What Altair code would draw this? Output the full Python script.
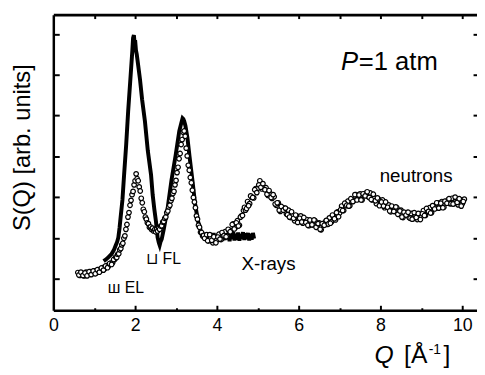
import altair as alt
import pandas as pd

# ---------------- data ----------------
# neutron S(Q), open circles (main grid)
s_n1 = [0.15, 0.08, 0.13, 0.07, 0.16, 0.10, 0.17, 0.12, 0.19, 0.14,
        0.22, 0.19, 0.27, 0.24, 0.32, 0.31, 0.38, 0.39, 0.47]
s_n2 = [0.53, 0.52, 0.60, 0.61, 0.71, 0.74, 0.83, 0.87, 0.99, 1.05,
        1.21, 1.33, 1.51, 1.62, 1.80, 1.92, 2.06, 2.14, 2.30, 2.40,
        2.57, 2.45, 2.40, 2.25, 2.15, 1.97, 1.86, 1.70, 1.64, 1.51,
        1.46, 1.37, 1.35, 1.26, 1.27, 1.21, 1.24, 1.17, 1.20, 1.15,
        1.21, 1.17, 1.24, 1.21, 1.29, 1.30, 1.39, 1.40, 1.48, 1.51,
        1.62, 1.66, 1.76, 1.80, 1.91, 1.97, 2.09, 2.14, 2.30, 2.41,
        2.60, 2.73, 2.94, 3.07, 3.29, 3.41, 3.59, 3.62, 3.49, 3.20,
        3.01, 2.78, 2.66, 2.48, 2.35, 2.17, 1.99, 1.88, 1.74, 1.54,
        1.46, 1.31, 1.26, 1.14, 1.13, 1.05, 1.06, 0.99]
s_n3 = [1.08, 0.93, 1.00, 0.88, 1.02, 0.96, 1.09, 0.96, 1.06, 1.15,
        1.04, 1.19, 1.18, 1.34, 1.25, 1.42, 1.31, 1.54, 1.67, 1.68,
        1.89, 1.84, 2.00, 1.98, 2.21, 2.22, 2.40, 2.20, 2.23, 2.23,
        2.04, 2.09, 1.97, 2.01, 1.80, 1.86, 1.65, 1.73, 1.73, 1.59,
        1.68, 1.50, 1.55, 1.42, 1.54, 1.44, 1.54, 1.36, 1.41, 1.45,
        1.30, 1.40, 1.32, 1.42, 1.26, 1.37, 1.20, 1.33, 1.39, 1.33,
        1.49, 1.39, 1.51, 1.44, 1.64, 1.61, 1.78, 1.67, 1.79, 1.90,
        1.79, 1.94, 1.92, 2.06, 1.95, 2.08, 1.93, 2.06, 2.10, 2.01,
        2.10, 1.93, 1.98, 1.84, 1.95, 1.84, 1.93, 1.74, 1.78, 1.81,
        1.64, 1.73, 1.65, 1.74, 1.58, 1.68, 1.50, 1.60, 1.62, 1.50,
        1.60, 1.47, 1.55, 1.45, 1.59, 1.53, 1.67, 1.55, 1.65, 1.74,
        1.62, 1.77, 1.73, 1.86, 1.75, 1.89, 1.75, 1.88, 1.93, 1.84,
        1.97, 1.84, 1.93, 1.81, 1.94, 1.84, 1.95]
# neutron points lying between the above ones (dense flat regions)
s_m1 = [0.09, 0.16, 0.08, 0.14, 0.07, 0.17, 0.10, 0.19, 0.12, 0.22,
        0.16, 0.26, 0.21, 0.31, 0.27, 0.37, 0.35, 0.47]
s_m3 = [0.93, 1.08, 0.94, 1.03, 0.88, 1.02, 0.97, 1.13, 1.06, 1.03,
        1.21, 1.15, 1.33, 1.22, 1.37, 1.29, 1.51, 1.55, 1.75, 1.72,
        1.79, 2.03, 1.99, 2.18, 2.11, 2.30, 2.24, 2.33, 2.18, 2.07,
        2.16, 1.99, 2.06, 1.83, 1.86, 1.68, 1.77, 1.68, 1.73, 1.57,
        1.51, 1.64, 1.48, 1.56, 1.38, 1.48, 1.39, 1.50, 1.38, 1.31,
        1.44, 1.32, 1.44, 1.26, 1.35, 1.21, 1.35, 1.31, 1.43, 1.34,
        1.36, 1.56, 1.47, 1.62, 1.52, 1.69, 1.67, 1.85, 1.80, 1.78,
        1.96, 1.89, 2.06, 1.93, 2.05, 1.93, 2.08, 2.03, 2.13, 1.99,
        1.94, 2.07, 1.91, 1.98, 1.79, 1.88, 1.78, 1.88, 1.75, 1.66,
        1.78, 1.65, 1.76, 1.58, 1.66, 1.51, 1.63, 1.56, 1.63, 1.48,
        1.46, 1.62, 1.50, 1.60, 1.45, 1.59, 1.55, 1.72, 1.65, 1.61,
        1.79, 1.71, 1.86, 1.73, 1.85, 1.74, 1.90, 1.85, 1.96, 1.84,
        1.83, 2.00, 1.87, 1.96, 1.78, 1.89]
q_n1 = [round(0.60 + 0.05 * i, 3) for i in range(len(s_n1))]
q_n2 = [round(1.525 + 0.025 * i, 3) for i in range(len(s_n2))]
q_n3 = [round(3.75 + 0.05 * i, 3) for i in range(len(s_n3))]
q_m1 = [round(0.625 + 0.05 * i, 3) for i in range(len(s_m1))]
q_m3 = [round(3.775 + 0.05 * i, 3) for i in range(len(s_m3))]

# X-ray S(Q), thick solid line
xray_q = [1.23, 1.30, 1.35, 1.42, 1.48, 1.52, 1.56, 1.59, 1.62, 1.64,
          1.69, 1.73, 1.78, 1.83, 1.88, 1.93, 1.95, 1.97, 1.99, 2.00,
          2.02, 2.04, 2.07, 2.12, 2.17, 2.24, 2.31, 2.39, 2.43, 2.47,
          2.51, 2.55, 2.58, 2.60, 2.62, 2.65, 2.70, 2.80, 2.89, 2.99,
          3.08, 3.13, 3.16, 3.18, 3.20, 3.23, 3.28, 3.33, 3.40, 3.47,
          3.54, 3.61, 3.66, 3.71, 3.74, 3.77, 3.80, 3.83, 3.86, 3.89,
          3.92, 3.95, 3.98, 4.01, 4.04, 4.07, 4.10, 4.13, 4.16, 4.19,
          4.22, 4.25, 4.28, 4.31, 4.34, 4.37, 4.40, 4.43, 4.46, 4.49,
          4.52, 4.55, 4.58, 4.61, 4.64, 4.67, 4.70, 4.73, 4.76, 4.79,
          4.82, 4.85, 4.88, 4.91]
xray_s = [0.43, 0.48, 0.53, 0.60, 0.70, 0.80, 0.90, 1.01, 1.25, 1.45,
          1.93, 2.54, 3.26, 4.11, 4.83, 5.56, 5.90, 5.97, 5.75, 5.85,
          5.60, 5.50, 5.27, 4.88, 4.40, 3.86, 3.14, 2.54, 2.05, 1.70,
          1.40, 1.01, 0.88, 0.82, 0.90, 0.97, 1.21, 1.76, 2.42, 3.02,
          3.62, 3.82, 3.93, 3.91, 3.86, 3.75, 3.45, 3.00, 2.42, 1.81,
          1.40, 1.16, 1.08, 1.02, 1.12, 0.95, 1.10, 0.92, 1.08, 0.96,
          1.12, 0.94, 1.06, 0.90, 1.10, 0.97, 1.13, 0.93, 1.08, 0.95,
          1.12, 0.97, 1.09, 0.92, 1.11, 0.98, 1.14, 0.94, 1.10, 0.96,
          1.13, 0.93, 1.09, 0.98, 1.14, 0.95, 1.11, 0.97, 1.12, 0.94,
          1.10, 0.96, 1.12, 0.98]

x_major = [0, 2, 4, 6, 8, 10]
x_minor = [1, 3, 5, 7, 9]
x_all = [1, 2, 3, 4, 5, 6, 7, 8, 9, 10]
y_ticks = [0, 1, 2, 3, 4, 5, 6]

ann_labels = ["neutrons", "X-rays"]
ann_q = [7.98, 4.60]
ann_s = [2.37, 0.22]
res_labels = ["\u2294 FL", "\u0448 EL"]
res_q = [2.27, 1.33]
res_s = [0.36, -0.34]

# ---------------- chart ----------------
FONT = "Liberation Sans"
W, H = 430, 300
xscale = alt.Scale(domain=[0, 10.36], nice=False, zero=False)
yscale = alt.Scale(domain=[-0.773, 6.473], nice=False, zero=False)

neut = pd.DataFrame({"Q": q_n1 + q_m1 + q_n2 + q_n3 + q_m3,
                     "S": s_n1 + s_m1 + s_n2 + s_n3 + s_m3})
xray = pd.DataFrame({"Q": xray_q, "S": xray_s})
ann = pd.DataFrame({"Q": ann_q, "S": ann_s, "t": ann_labels})
res = pd.DataFrame({"Q": res_q, "S": res_s, "t": res_labels})

line = alt.Chart(xray).mark_line(color="black", strokeWidth=4).encode(
    x=alt.X("Q:Q", scale=xscale, axis=alt.Axis(
        orient="bottom", values=x_major, ticks=False, tickSize=0, labelPadding=7,
        labelFlush=False, domainWidth=2.5, domainColor="black", labelFont=FONT,
        labelFontSize=18, labelColor="black", grid=False, title=None, format="d")),
    y=alt.Y("S:Q", scale=yscale, axis=alt.Axis(
        orient="left", labels=False, ticks=False, domainWidth=2.5,
        domainColor="black", grid=False, title=None)),
    order="Q:Q",
)

pts = alt.Chart(neut).mark_point(
    shape="circle", size=22, filled=False, fill="white", fillOpacity=1,
    stroke="black", strokeWidth=1.2, opacity=1,
).encode(
    x=alt.X("Q:Q", scale=xscale, axis=alt.Axis(
        orient="top", offset=-H, values=[2, 4, 6, 8, 10], labels=False,
        domain=False, tickSize=5, tickWidth=2, tickColor="black",
        grid=False, title=None)),
    y=alt.Y("S:Q", scale=yscale, axis=alt.Axis(
        orient="right", offset=-W, values=y_ticks, labels=False, domain=False,
        tickSize=6, tickWidth=2, tickColor="black", grid=False, title=None)),
)

ann_layer = alt.Chart(ann).mark_text(
    font=FONT, fontSize=19, align="left", baseline="alphabetic", color="black"
).encode(
    x=alt.X("Q:Q", scale=xscale, axis=alt.Axis(
        orient="bottom", offset=-H, values=x_all, labels=False, domain=True,
        domainWidth=3, domainColor="black", tickSize=4, tickWidth=2,
        tickColor="black", grid=False, title=None)),
    y=alt.Y("S:Q", scale=yscale, axis=alt.Axis(
        orient="left", offset=-W, values=y_ticks, labels=False, domain=False,
        tickSize=4, tickWidth=2, tickColor="black", grid=False, title=None)),
    text="t:N",
)

res_layer = alt.Chart(res).mark_text(
    font=FONT, fontSize=16, align="left", baseline="alphabetic", color="black"
).encode(
    x=alt.X("Q:Q", scale=xscale, axis=alt.Axis(
        orient="top", offset=-H, values=x_minor, labels=False, domain=False,
        tickSize=2.5, tickWidth=2, tickColor="black", grid=False, title=None)),
    y=alt.Y("S:Q", scale=yscale, axis=None),
    text="t:N",
)

def label(txt, x, y, size, style="normal", angle=0, align="left", baseline="alphabetic"):
    return alt.Chart(pd.DataFrame({"t": [txt]})).mark_text(
        font=FONT, fontSize=size, fontStyle=style, align=align,
        baseline=baseline, angle=angle, color="black",
    ).encode(x=alt.value(x), y=alt.value(y), text="t:N")

p_lab = label("P", 292, 56, 26, "italic")
p_rest = label("=1 atm", 310, 56, 26)
xt_q = label("Q", 326, 354, 25, "italic")
xt_a = label("[\u00c5", 356, 354, 25)
xt_sup = label("-1", 381, 344, 14)
xt_b = label("]", 396, 354, 25)
yt = label("S(Q)  [arb. units]", -31, 135, 24, angle=270, align="center",
           baseline="middle")

chart = alt.layer(
    line, pts, ann_layer, res_layer, p_lab, p_rest, xt_q, xt_a, xt_sup, xt_b, yt
).resolve_axis(x="independent", y="independent").properties(
    width=W, height=H,
    padding={"left": 46, "top": 4, "right": 0, "bottom": 62},
    autosize=alt.AutoSizeParams(type="none"),
).configure_view(stroke=None).configure(background="white")

chart.save("out.html", embed_options={"renderer": "svg", "actions": False})
